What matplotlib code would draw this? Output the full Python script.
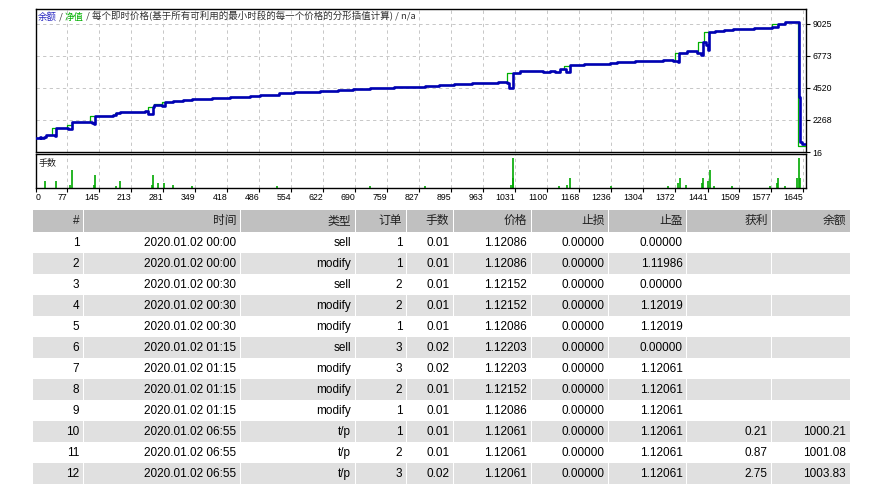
import bisect
import matplotlib
matplotlib.use('Agg')
from matplotlib import pyplot as plt
from matplotlib.patches import Rectangle

plt.rcParams['font.family'] = ['Liberation Sans', 'Noto Sans CJK SC']

W, H = 877, 488

# balance curve: trade index -> balance
bal_x = [9.7, 19, 22, 27, 32, 51, 54, 79, 86, 129, 134, 136, 175, 181, 189, 243, 250, 259, 262, 278,
         285, 303, 324, 342, 385, 424, 466, 488, 527, 559, 615, 654, 686, 722, 772, 839, 868, 900, 939, 995,
         1013, 1019, 1026, 1042, 1091, 1106, 1116, 1127, 1140, 1147, 1177, 1233, 1248, 1287, 1304, 1347,
         1368, 1377, 1381, 1397, 1418, 1427, 1431, 1438, 1443, 1445, 1457, 1475, 1496, 1539, 1578, 1592,
         1606, 1635, 1637, 1639, 1643, 1650]
bal_y = [1000, 1090, 1020, 1090, 1210, 1160, 1700, 1650, 2130, 2050, 2000, 2550, 2620, 2740, 2830, 2900, 2700, 3200, 3320, 3270,
         3510, 3600, 3680, 3745, 3795, 3905, 3955, 4050, 4165, 4240, 4290, 4380, 4470, 4540, 4610, 4680, 4750, 4820, 4890, 4960,
         4870, 4500, 5550, 5670, 5620, 5710, 5620, 5840, 5620, 6090, 6190, 6240, 6300, 6370, 6420, 6490,
         6400, 6330, 6960, 7075, 6960, 6790, 7740, 7500, 7195, 8410, 8480, 8550, 8650, 8695, 8790, 9025,
         9115, 3900, 980, 740, 560, 560]

# points where equity moves away from balance (floating profit / loss)
equity_leads = [(45, 1700), (77, 1890), (125, 2530), (179, 2760), (250, 3200), (262, 3400), (278, 3510),
                (1013, 5550), (1136, 6070), (1372, 6960), (1420, 7740), (1434, 8410), (1578, 9025), (1633, 460)]

# lots
vol_x = [29, 54, 83, 88, 134, 136, 181, 189, 257, 260, 270, 282, 302, 342, 524, 722, 839,
         1022, 1026, 1027, 1125, 1142, 1147, 1236, 1356, 1378, 1383, 1395, 1429, 1432, 1443, 1446,
         1455, 1493, 1574, 1589, 1592, 1606, 1631, 1635, 1638]
vol_lots = [0.04, 0.04, 0.02, 0.11, 0.02, 0.08, 0.01, 0.04, 0.02, 0.08, 0.03, 0.03, 0.02, 0.01, 0.01, 0.01, 0.01,
            0.02, 0.06, 0.19, 0.01, 0.02, 0.06, 0.01, 0.01, 0.03, 0.06, 0.02, 0.03, 0.06, 0.04, 0.11,
            0.01, 0.01, 0.01, 0.03, 0.06, 0.01, 0.06, 0.19, 0.06]

x_ticks = [77, 145, 213, 281, 349, 418, 486, 554, 622, 690, 759, 827, 895, 963, 1031, 1100, 1168,
           1236, 1304, 1372, 1441, 1509, 1577, 1645]
y_ticks = [16, 2268, 4520, 6773, 9025]

# order table
headers = ['#', '时间', '类型', '订单', '手数', '价格', '止损', '止盈', '获利', '余额']
col_no = [str(i) for i in range(1, 13)]
col_time = ['2020.01.02 00:00', '2020.01.02 00:00', '2020.01.02 00:30', '2020.01.02 00:30',
            '2020.01.02 00:30', '2020.01.02 01:15', '2020.01.02 01:15', '2020.01.02 01:15',
            '2020.01.02 01:15', '2020.01.02 06:55', '2020.01.02 06:55', '2020.01.02 06:55']
col_type = ['sell', 'modify', 'sell', 'modify', 'modify', 'sell', 'modify', 'modify', 'modify', 't/p', 't/p', 't/p']
col_order = ['1', '1', '2', '2', '1', '3', '3', '2', '1', '1', '2', '3']
col_lots = ['0.01', '0.01', '0.01', '0.01', '0.01', '0.02', '0.02', '0.01', '0.01', '0.01', '0.01', '0.02']
col_price = ['1.12086', '1.12086', '1.12152', '1.12152', '1.12086', '1.12203', '1.12203', '1.12152',
             '1.12086', '1.12061', '1.12061', '1.12061']
col_sl = ['0.00000'] * 12
col_tp = ['0.00000', '1.11986', '0.00000', '1.12019', '1.12019', '0.00000', '1.12061', '1.12061',
          '1.12061', '1.12061', '1.12061', '1.12061']
col_profit = [''] * 9 + ['0.21', '0.87', '2.75']
col_balance = [''] * 9 + ['1000.21', '1001.08', '1003.83']

# equity = balance with the floating deviations
eq_x = list(bal_x)
eq_y = list(bal_y)
for lx, lv in equity_leads:
    i = bisect.bisect_right(eq_x, lx)
    prev = eq_y[i - 1]
    eq_x.insert(i, lx)
    eq_y.insert(i, lv)
    j = i + 1
    if lv >= prev:
        while j < len(eq_x) and eq_y[j] < lv - 60:
            eq_y[j] = lv
            j += 1
    else:
        while j < len(eq_x) and eq_y[j] > lv + 60:
            eq_y[j] = lv
            j += 1

fig = plt.figure(figsize=(W / 100, H / 100), dpi=100)
fig.patch.set_facecolor('white')

L, R = 35.7, 805.7
ax = fig.add_axes([L / W, 1 - 152 / H, (R - L) / W, (152 - 9.3) / H])
axv = fig.add_axes([L / W, 1 - 187.7 / H, (R - L) / W, (187.7 - 154) / H], sharex=ax)

grid_kw = dict(color='#c8c8c8', linestyle=(0, (3.3, 3.3)), linewidth=0.72)
x_left, x_right = 9.7, 1650.1

ax.plot(eq_x, eq_y, drawstyle='steps-post', color='#00b000', lw=0.9, zorder=3)
ax.plot(bal_x, bal_y, drawstyle='steps-post', color='#0000b4', lw=1.9, zorder=4)
ax.set_xlim(x_left, x_right)
ax.set_ylim(16, 10030)
ax.set_yticks(y_ticks)
ax.set_yticklabels([str(v) for v in y_ticks])
ax.yaxis.tick_right()
ax.tick_params(axis='y', direction='out', length=3, pad=2, labelsize=6.3, width=0.8)
ax.tick_params(axis='x', bottom=False, labelbottom=False)
ax.grid(True, **grid_kw)
ax.set_axisbelow(True)

axv.vlines(vol_x, 0, vol_lots, color='#00a800', lw=1.2)
axv.set_ylim(0, 0.215)
axv.set_yticks([])
axv.set_xticks([x_left] + x_ticks)
axv.set_xticklabels(['0'] + [str(v) for v in x_ticks])
axv.tick_params(axis='x', direction='out', length=3, pad=1, labelsize=6.3, width=0.8)
for k, t in enumerate(axv.get_xticklabels()):
    t.set_ha('left' if k == 0 else 'right')
axv.grid(True, axis='x', **grid_kw)
axv.set_axisbelow(True)

for a in (ax, axv):
    for s in a.spines.values():
        s.set_linewidth(1.0)
        s.set_color('black')

# pixel overlay for texts and the table
tab = fig.add_axes([0, 0, 1, 1])
tab.set_xlim(0, W)
tab.set_ylim(H, 0)
tab.axis('off')

cjk = ['Noto Sans CJK SC', 'DejaVu Sans']
t1 = tab.text(38, 21.5, '余额', color='#2828c0', fontsize=6.8, family=cjk, va='bottom', ha='left')
t2 = tab.annotate(' / ', xy=(1, 0), xycoords=t1, va='bottom', ha='left', fontsize=6.8, family=cjk, color='#303030')
t3 = tab.annotate('净值', xy=(1, 0), xycoords=t2, va='bottom', ha='left', fontsize=6.8, family=cjk, color='#00b000')
tab.annotate(' / 每个即时价格(基于所有可利用的最小时段的每一个价格的分形插值计算) / n/a', xy=(1, 0), xycoords=t3,
             va='bottom', ha='left', fontsize=6.8, family=cjk, color='#303030')
tab.text(39, 163.5, '手数', fontsize=6.5, family=cjk, va='center', ha='left', color='#202020')

edges = [32, 83.3, 240, 355, 406.3, 453.3, 531, 608.7, 686.7, 771.7, 850]
head_top, head_bot = 210, 231.7
row_top, row_h = 232, 21

for c, name in enumerate(headers):
    x0, x1 = edges[c], edges[c + 1]
    tab.add_patch(Rectangle((x0 + 0.5, head_top), x1 - x0 - 1, head_bot - head_top,
                            facecolor='#c0c0c0', edgecolor='none'))
    tab.text(x1 - 4, (head_top + head_bot) / 2, name, ha='right', va='center', fontsize=8.5, color='#202020')

columns = [col_no, col_time, col_type, col_order, col_lots, col_price, col_sl, col_tp, col_profit, col_balance]
for r in range(len(col_no)):
    y0 = row_top + r * row_h
    for c, col in enumerate(columns):
        x0, x1 = edges[c], edges[c + 1]
        if r % 2 == 1:
            tab.add_patch(Rectangle((x0 + 0.5, y0), x1 - x0 - 1, row_h,
                                    facecolor='#e0e0e0', edgecolor='none'))
        tab.text(x1 - 4, y0 + row_h / 2 + 0.5, col[r], ha='right', va='center', fontsize=8.5, color='black')

fig.savefig('out.png', dpi=100, facecolor='white')
